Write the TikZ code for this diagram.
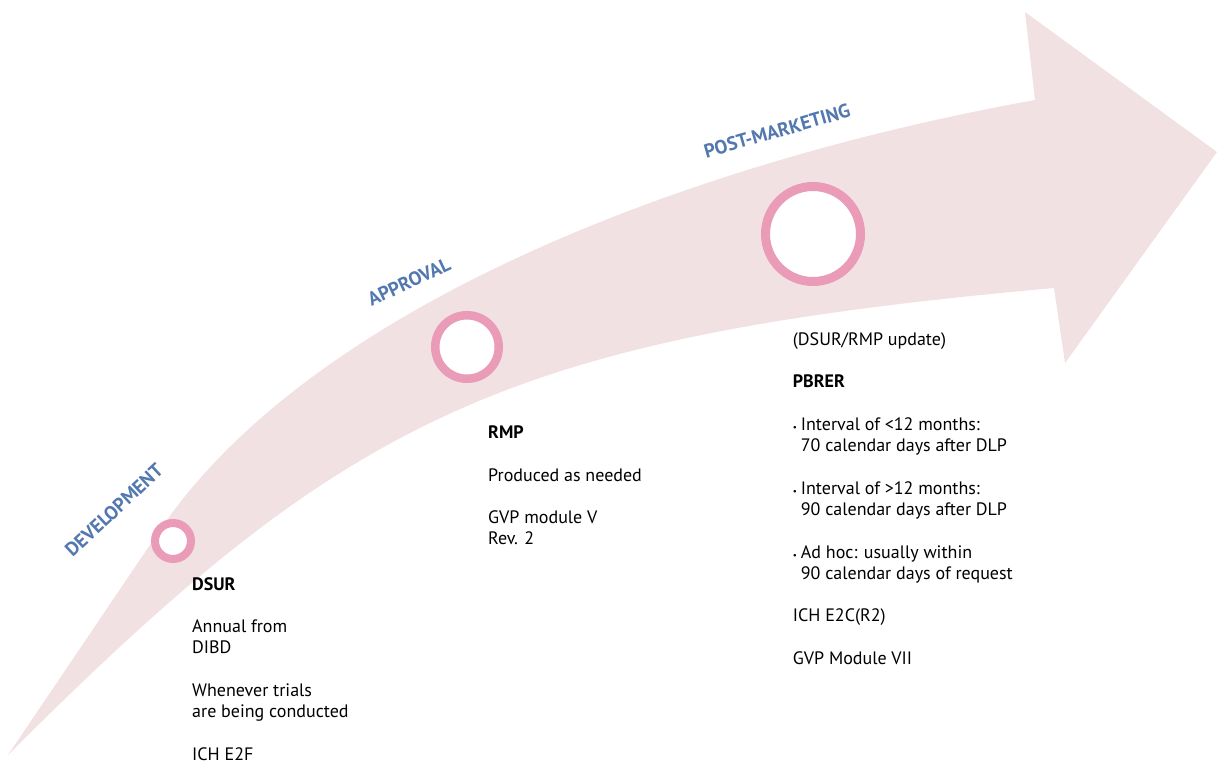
\documentclass[tikz,border=0pt]{standalone}
\usepackage{fontspec}
\setmainfont{PT Sans}
\definecolor{bandc}{RGB}{242,225,226}
\definecolor{ringc}{RGB}{233,155,184}
\definecolor{lblue}{RGB}{83,120,176}
\begin{document}
\begin{tikzpicture}[x=1pt,y=-1pt,
  ring/.style={circle,draw=ringc,fill=white,inner sep=0pt},
  phase/.style={font=\fontsize{19.3}{21}\selectfont\bfseries,text=lblue,inner sep=0pt},
  body/.style={font=\fontsize{18}{21.3}\selectfont,anchor=base west,inner sep=0pt},
  headtxt/.style={body,font=\fontsize{18}{21.3}\selectfont\bfseries}]
\useasboundingbox (0,0) rectangle (1217,767);
% band arrow
\coordinate (tail) at (8,755);
\coordinate (ubend) at (160,530);
\coordinate (ujoin) at (1035,100);
\coordinate (htop) at (1025,12);
\coordinate (htip) at (1217,152);
\coordinate (hbot) at (1065,363);
\coordinate (ljoin) at (1054,288);
\fill[bandc] (tail) .. controls (58,681) and (110,604) .. (ubend)
  .. controls (310,308) and (685,163) .. (ujoin)
  -- (htop) -- (htip) -- (hbot) -- (ljoin)
  .. controls (504,337.5) and (348,415) .. (tail) -- cycle;
% milestones
\node[ring,line width=8pt,minimum size=36pt] (c1) at (173,541) {};
\node[ring,line width=8.5pt,minimum size=63.5pt] (c2) at (467,347) {};
\node[ring,line width=9pt,minimum size=95pt] (c3) at (813,234) {};
% phase labels
\node[phase,rotate=43] (ldev) at (114,510) {DEVELOPMENT};
\node[phase,rotate=25] (lapp) at (409,282) {APPROVAL};
\node[phase,rotate=16] (lpost) at (777,131) {POST-MARKETING};
% DSUR
\node[headtxt] (d1) at (192,590) {DSUR};
\node[body] (d2) at (192,632.6) {Annual from};
\node[body] (d3) at (192,653.9) {DIBD};
\node[body] (d4) at (192,696.5) {Whenever trials};
\node[body] (d5) at (192,717.8) {are being conducted};
\node[body] (d6) at (192,760.4) {ICH E2F};
% RMP
\node[headtxt] (r1) at (488,438.3) {RMP};
\node[body] (r2) at (488,481) {Produced as needed};
\node[body] (r3) at (488,523.6) {GVP module V};
\node[body] (r4) at (488,544.9) {Rev. 2};
% PBRER
\node[body] (p1) at (792.7,345) {(DSUR/RMP update)};
\node[headtxt] (p2) at (792.7,387.6) {PBRER};
\node[body] (p3) at (792.7,430.2) {\makebox[8pt][l]{\small•}Interval of <12 months:};
\node[body] (p4) at (800.7,451.5) {70 calendar days after DLP};
\node[body] (p5) at (792.7,494.1) {\makebox[8pt][l]{\small•}Interval of >12 months:};
\node[body] (p6) at (800.7,515.4) {90 calendar days after DLP};
\node[body] (p7) at (792.7,558) {\makebox[8pt][l]{\small•}Ad hoc: usually within};
\node[body] (p8) at (800.7,579.3) {90 calendar days of request};
\node[body] (p9) at (792.7,621.9) {ICH E2C(R2)};
\node[body] (p10) at (792.7,664.5) {GVP Module VII};
\end{tikzpicture}
\end{document}
